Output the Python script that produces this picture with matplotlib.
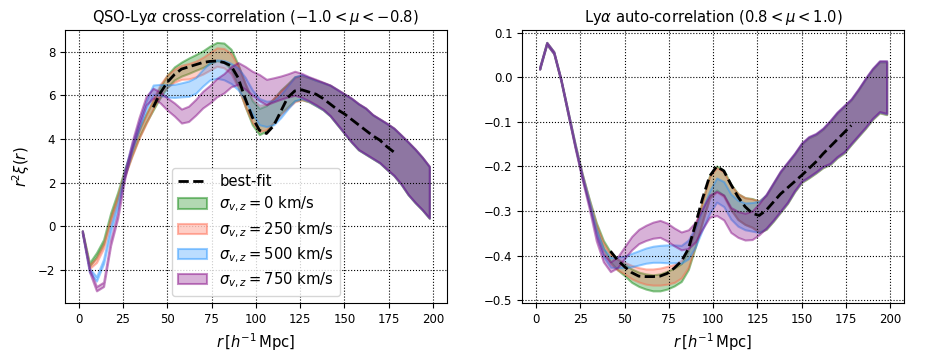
import numpy as np
import matplotlib
matplotlib.use('Agg')
import matplotlib.pyplot as plt
from matplotlib.colors import to_rgba

# separation bins (Mpc/h)
r = np.arange(2, 200, 4)
r_fit = np.arange(42, 180, 4)

sigmas = [0, 250, 500, 750]
colors = ['green', 'tomato', 'dodgerblue', 'purple']

# ---- QSO-Lya cross-correlation, mean of each band ----
cross_0 = [-0.25, -1.75, -1.3, -0.7, 0.5, 1.45, 2.5, 3.4, 4.25, 4.95,
           5.55, 6.15, 6.65, 7.0, 7.2, 7.35, 7.5, 7.65, 7.85, 8.0,
           7.95, 7.65, 6.9, 6.0, 5.2, 4.8, 4.95, 5.3, 5.7, 6.0,
           6.3, 6.35, 6.25, 6.1, 5.95, 5.75, 5.45, 5.15, 4.85, 4.55,
           4.35, 4.1, 3.9, 3.65, 3.4, 3.05, 2.65, 2.3, 1.95, 1.55]
cross_250 = [-0.25, -1.85, -1.55, -0.9, 0.3, 1.3, 2.45, 3.35, 4.2, 4.9,
             5.6, 6.25, 6.65, 6.9, 7.05, 7.1, 7.2, 7.35, 7.55, 7.75,
             7.7, 7.45, 6.85, 6.0, 5.3, 4.95, 5.0, 5.3, 5.65, 5.95,
             6.25, 6.35, 6.26, 6.11, 5.96, 5.76, 5.46, 5.16, 4.86, 4.56,
             4.36, 4.11, 3.91, 3.66, 3.41, 3.06, 2.66, 2.31, 1.96, 1.56]
cross_500 = [-0.25, -2.0, -2.4, -1.6, -0.1, 0.98, 2.45, 3.6, 4.6, 5.55,
             6.25, 6.25, 6.2, 6.2, 6.25, 6.3, 6.45, 6.8, 7.1, 7.2,
             7.15, 7.0, 6.75, 6.3, 5.7, 5.25, 5.15, 5.2, 5.5, 5.9,
             6.3, 6.4, 6.27, 6.11, 5.96, 5.76, 5.46, 5.16, 4.86, 4.56,
             4.36, 4.11, 3.91, 3.66, 3.41, 3.06, 2.66, 2.31, 1.96, 1.56]
cross_750 = [-0.25, -2.0, -2.85, -2.65, -0.75, 0.5, 2.35, 3.7, 4.8, 5.75,
             6.1, 5.9, 5.6, 5.35, 5.05, 5.15, 5.45, 5.8, 6.05, 6.35,
             6.55, 6.85, 7.0, 6.8, 6.55, 6.35, 6.15, 6.25, 6.35, 6.45,
             6.55, 6.45, 6.3, 6.15, 5.98, 5.77, 5.47, 5.17, 4.87, 4.57,
             4.37, 4.12, 3.92, 3.67, 3.42, 3.07, 2.67, 2.32, 1.97, 1.57]
cross_err = [0.05, 0.08, 0.1, 0.1, 0.12, 0.12, 0.15, 0.15, 0.18, 0.2,
             0.22, 0.25, 0.28, 0.3, 0.32, 0.35, 0.36, 0.38, 0.4, 0.42,
             0.44, 0.46, 0.5, 0.52, 0.55, 0.6, 0.58, 0.55, 0.53, 0.53,
             0.55, 0.55, 0.55, 0.58, 0.62, 0.7, 0.8, 0.9, 1.0, 1.05,
             1.05, 1.0, 1.0, 1.05, 1.08, 1.12, 1.2, 1.22, 1.2, 1.18]
cross_fit = [5.45, 6.1, 6.6, 6.95, 7.2, 7.3, 7.4, 7.5, 7.55, 7.57,
             7.5, 7.35, 6.8, 5.85, 5.0, 4.4, 4.25, 4.6, 5.25, 5.9,
             6.2, 6.25, 6.15, 6.05, 5.85, 5.6, 5.35, 5.15, 4.9, 4.65,
             4.4, 4.15, 3.95, 3.65, 3.4]

# ---- Lya auto-correlation ----
auto_0 = [0.02, 0.076, 0.055, -0.006, -0.08, -0.152, -0.22, -0.278, -0.333, -0.375,
          -0.403, -0.42, -0.432, -0.445, -0.453, -0.458, -0.461, -0.46, -0.455, -0.448,
          -0.438, -0.41, -0.358, -0.3, -0.245, -0.226, -0.237, -0.268, -0.29, -0.3,
          -0.304, -0.313, -0.303, -0.281, -0.258, -0.238, -0.215, -0.193, -0.181, -0.172,
          -0.16, -0.148, -0.131, -0.118, -0.101, -0.081, -0.06, -0.039, -0.023, -0.025]
auto_250 = [0.02, 0.076, 0.055, -0.006, -0.08, -0.152, -0.22, -0.28, -0.337, -0.38,
            -0.408, -0.42, -0.428, -0.437, -0.443, -0.447, -0.448, -0.447, -0.444, -0.44,
            -0.43, -0.405, -0.355, -0.3, -0.247, -0.23, -0.24, -0.27, -0.29, -0.3,
            -0.305, -0.312, -0.302, -0.28, -0.257, -0.237, -0.214, -0.192, -0.18, -0.171,
            -0.159, -0.147, -0.13, -0.117, -0.1, -0.08, -0.059, -0.038, -0.022, -0.024]
auto_500 = [0.02, 0.076, 0.055, -0.006, -0.08, -0.153, -0.222, -0.283, -0.347, -0.393,
            -0.415, -0.415, -0.414, -0.41, -0.405, -0.4, -0.397, -0.396, -0.396, -0.396,
            -0.397, -0.386, -0.358, -0.318, -0.28, -0.253, -0.262, -0.29, -0.305, -0.312,
            -0.313, -0.313, -0.301, -0.279, -0.256, -0.236, -0.213, -0.191, -0.179, -0.17,
            -0.158, -0.146, -0.129, -0.116, -0.099, -0.079, -0.058, -0.037, -0.021, -0.023]
auto_750 = [0.02, 0.076, 0.055, -0.006, -0.08, -0.156, -0.225, -0.29, -0.36, -0.405,
            -0.425, -0.415, -0.393, -0.372, -0.357, -0.349, -0.343, -0.34, -0.347, -0.358,
            -0.367, -0.363, -0.347, -0.317, -0.289, -0.283, -0.292, -0.32, -0.33, -0.335,
            -0.332, -0.318, -0.3, -0.278, -0.255, -0.235, -0.212, -0.19, -0.178, -0.169,
            -0.157, -0.145, -0.128, -0.115, -0.098, -0.078, -0.057, -0.036, -0.02, -0.022]
auto_err = [0.002, 0.002, 0.002, 0.002, 0.003, 0.003, 0.004, 0.005, 0.007, 0.009,
            0.011, 0.012, 0.013, 0.015, 0.016, 0.017, 0.018, 0.019, 0.02, 0.02,
            0.02, 0.021, 0.022, 0.023, 0.025, 0.027, 0.028, 0.028, 0.029, 0.03,
            0.032, 0.035, 0.038, 0.042, 0.045, 0.045, 0.042, 0.043, 0.045, 0.043,
            0.043, 0.048, 0.05, 0.052, 0.05, 0.052, 0.055, 0.056, 0.057, 0.059]
auto_fit = [-0.39, -0.41, -0.425, -0.438, -0.446, -0.447, -0.447, -0.446, -0.44, -0.428,
            -0.413, -0.385, -0.33, -0.272, -0.222, -0.2, -0.21, -0.24, -0.268, -0.29,
            -0.305, -0.31, -0.298, -0.28, -0.262, -0.248, -0.234, -0.22, -0.205, -0.19,
            -0.172, -0.156, -0.14, -0.124, -0.108]

TICK_FS = 8.5
TEXT_FS = 10.6

fig, axes = plt.subplots(1, 2, figsize=(9.27, 3.6), dpi=100)
fig.subplots_adjust(left=0.0701, right=0.9752, bottom=0.1575, top=0.9167, wspace=0.198)

panels = [
    (axes[0], [cross_0, cross_250, cross_500, cross_750], cross_err, cross_fit,
     r'QSO-Ly$\alpha$ cross-correlation ($-1.0 < \mu < -0.8$)'),
    (axes[1], [auto_0, auto_250, auto_500, auto_750], auto_err, auto_fit,
     r'Ly$\alpha$ auto-correlation ($0.8 < \mu < 1.0$)'),
]

for ax, means, err, fit, title in panels:
    err = np.array(err)
    ax.plot(r_fit, fit, 'k--', lw=2, label='best-fit', zorder=5)
    for m, s, c in zip(means, sigmas, colors):
        m = np.array(m)
        ax.fill_between(r, m - err, m + err, facecolor=to_rgba(c, 0.3),
                        edgecolor=to_rgba(c, 0.45), lw=1.5,
                        label=r'$\sigma_{v,z} = %d$ km/s' % s)
    ax.grid(True, ls=':', color='k', lw=0.8)
    ax.set_xticks(np.arange(0, 201, 25))
    ax.set_xlabel(r'$r\,[h^{-1}\,\mathrm{Mpc}]$', fontsize=TEXT_FS)
    ax.set_title(title, fontsize=TEXT_FS)
    ax.tick_params(labelsize=TICK_FS)

axes[0].set_yticks(np.arange(-2, 9, 2))
axes[0].set_ylabel(r'$r^2\xi(r)$', fontsize=TEXT_FS)
axes[1].set_yticks(np.arange(-0.5, 0.11, 0.1))
axes[0].legend(loc='lower center', fontsize=TEXT_FS, labelspacing=0.4)

fig.savefig('out.png')
